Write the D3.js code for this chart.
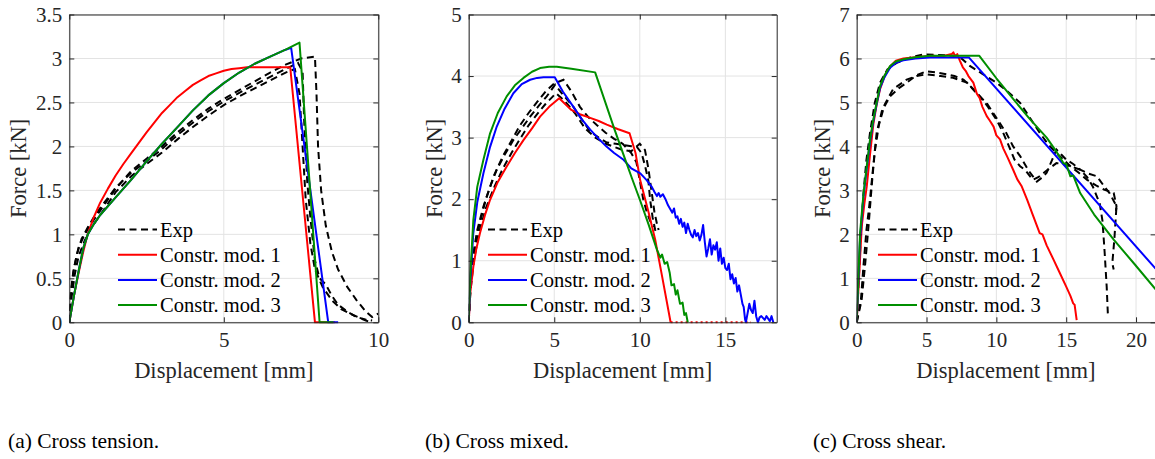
<!DOCTYPE html>
<html><head><meta charset="utf-8">
<script src="https://cdn.jsdelivr.net/npm/d3@7/dist/d3.min.js"></script>
<style>
html,body{margin:0;padding:0;background:#fff;}
svg{display:block;}
</style></head>
<body>
<svg id="chart" width="1155" height="459"></svg>
<script>
// ---------------- DATA ----------------
const seriesNames = ["Exp", "Constr. mod. 1", "Constr. mod. 2", "Constr. mod. 3"];
const seriesColors = ["#000000", "#ff0000", "#0000ff", "#008f00"];
const captions = ["(a) Cross tension.", "(b) Cross mixed.", "(c) Cross shear."];
const xTitle = "Displacement [mm]";
const yTitle = "Force [kN]";

// (a) Cross tension
const tensionXTicks = [0, 5, 10];
const tensionYTicks = [0, 0.5, 1, 1.5, 2, 2.5, 3, 3.5];
const tensionExp1 = [[0,0],[0.05,0.3],[0.12,0.55],[0.25,0.78],[0.4,0.95],[0.6,1.08],[0.8,1.2],[1.0,1.3],[1.5,1.53],[2.0,1.7],[2.5,1.83],[3.0,1.97],[3.5,2.13],[4.0,2.27],[4.5,2.4],[5.0,2.51],[5.5,2.61],[6.0,2.7],[6.5,2.79],[7.0,2.88],[7.4,2.95],[7.55,2.85],[7.6,2.3],[7.7,1.6],[7.8,1.2],[7.95,0.7],[8.1,0.5],[8.3,0.43],[8.5,0.3],[8.7,0.2],[9.0,0.12],[9.3,0.06],[9.6,0.03],[9.8,0.02]];
const tensionExp2 = [[0,0],[0.08,0.3],[0.18,0.55],[0.3,0.75],[0.5,0.93],[0.7,1.07],[1.0,1.22],[1.5,1.48],[2.0,1.66],[2.5,1.8],[3.0,1.93],[3.5,2.08],[4.0,2.22],[4.5,2.35],[5.0,2.47],[5.5,2.57],[6.0,2.66],[6.5,2.75],[7.0,2.84],[7.3,2.88],[7.45,2.6],[7.55,2.0],[7.65,1.4],[7.8,0.9],[7.95,0.6],[8.2,0.4],[8.5,0.25],[8.8,0.15],[9.2,0.08],[9.6,0.02],[9.75,0.0]];
const tensionExp3 = [[0,0],[0.05,0.35],[0.15,0.62],[0.3,0.85],[0.5,1.0],[0.8,1.17],[1.0,1.27],[1.5,1.52],[2.0,1.72],[2.5,1.86],[3.0,2.0],[3.5,2.16],[4.0,2.3],[4.5,2.43],[5.0,2.54],[5.5,2.64],[6.0,2.74],[6.5,2.84],[7.0,2.93],[7.5,3.0],[7.95,3.02],[8.0,2.6],[8.05,2.0],[8.15,1.5],[8.3,1.1],[8.5,0.8],[8.7,0.6],[9.0,0.4],[9.3,0.25],[9.6,0.12],[9.8,0.06],[10.0,0.1]];
const tensionMod1 = [[0,0],[0.15,0.3],[0.3,0.56],[0.45,0.8],[0.6,1.01],[0.8,1.2],[1.0,1.36],[1.25,1.52],[1.5,1.67],[1.75,1.8],[2.0,1.92],[2.25,2.04],[2.5,2.16],[2.75,2.27],[3.0,2.38],[3.25,2.47],[3.5,2.56],[3.75,2.63],[4.0,2.7],[4.25,2.75],[4.5,2.8],[4.75,2.83],[5.0,2.86],[5.25,2.88],[5.5,2.89],[5.75,2.9],[6.0,2.9],[7.15,2.9],[7.95,0],[8.6,0]];
const tensionMod2 = [[0,0],[0.15,0.3],[0.3,0.58],[0.45,0.84],[0.6,1.0],[0.8,1.12],[1.0,1.22],[1.5,1.42],[2.0,1.62],[2.5,1.83],[3.0,2.03],[3.5,2.22],[4.0,2.41],[4.5,2.58],[5.0,2.72],[5.5,2.84],[6.0,2.94],[6.5,3.02],[7.0,3.1],[7.18,3.12],[8.38,0],[8.7,0]];
const tensionMod3 = [[0,0],[0.15,0.3],[0.3,0.58],[0.45,0.84],[0.6,1.0],[0.8,1.12],[1.0,1.22],[1.5,1.42],[2.0,1.62],[2.5,1.83],[3.0,2.03],[3.5,2.22],[4.0,2.41],[4.5,2.58],[5.0,2.72],[5.5,2.84],[6.0,2.94],[6.5,3.02],[7.0,3.1],[7.45,3.18],[8.1,0],[8.55,0]];

// (b) Cross mixed
const mixedXTicks = [0, 5, 10, 15];
const mixedYTicks = [0, 1, 2, 3, 4, 5];
const mixedExp1 = [[0,0],[0.1,0.6],[0.27,1.12],[0.5,1.5],[0.86,1.88],[1.25,2.2],[1.64,2.48],[2.1,2.72],[2.61,2.96],[3.1,3.15],[3.59,3.34],[4.1,3.52],[4.56,3.67],[5.05,3.86],[5.5,3.7],[6.12,3.5],[6.6,3.3],[7.1,3.1],[7.6,3.0],[8.07,2.92],[8.6,2.9],[9.05,2.88],[9.5,2.86],[9.83,2.85],[10.1,2.75],[10.3,2.55],[10.5,2.3],[10.6,2.0],[10.75,1.7],[10.9,1.5],[11.0,1.42]];
const mixedExp2 = [[0,0],[0.1,0.55],[0.3,1.1],[0.6,1.55],[1.0,2.0],[1.5,2.4],[2.0,2.7],[2.5,2.95],[3.0,3.2],[3.5,3.4],[4.0,3.58],[4.5,3.75],[5.0,3.88],[5.54,3.94],[6.0,3.75],[6.5,3.5],[7.0,3.33],[7.5,3.2],[8.0,3.08],[8.5,2.98],[9.0,2.9],[9.5,2.75],[9.8,2.6],[10.0,2.3],[10.2,2.0],[10.4,1.8],[10.6,1.65],[10.8,1.55]];
const mixedExp3 = [[0,0],[0.1,0.5],[0.3,1.0],[0.6,1.45],[1.0,1.85],[1.5,2.2],[2.0,2.5],[2.5,2.75],[3.0,2.98],[3.5,3.2],[4.0,3.38],[4.5,3.55],[5.1,3.72],[5.6,3.6],[6.2,3.4],[6.8,3.15],[7.4,3.0],[8.0,2.9],[8.5,2.85],[9.0,2.8],[9.5,2.78],[10.0,2.9],[10.3,2.8],[10.5,2.5],[10.7,2.1],[10.85,1.8],[11.0,1.6],[11.1,1.5]];
const mixedMod1 = [[0,0],[0.1,0.5],[0.27,0.9],[0.45,1.2],[0.66,1.45],[0.95,1.74],[1.25,1.99],[1.7,2.28],[2.22,2.53],[2.7,2.75],[3.2,2.96],[3.7,3.15],[4.17,3.34],[4.7,3.5],[5.29,3.64],[6.0,3.45],[6.5,3.38],[7.1,3.32],[7.6,3.27],[8.07,3.21],[8.7,3.14],[9.4,3.07],[9.75,2.75],[10.02,2.31],[10.5,1.8],[10.9,1.34],[11.3,0.75],[11.8,0]];
const mixedMod1Tail = [[11.8,0],[16.5,0]];
const mixedMod2 = [[0,0],[0.1,0.7],[0.27,1.45],[0.5,1.95],[0.86,2.42],[1.25,2.85],[1.64,3.18],[2.1,3.47],[2.61,3.72],[3.1,3.87],[3.59,3.94],[4.0,3.97],[4.37,3.98],[5.03,3.98],[5.5,3.75],[6.12,3.5],[6.6,3.3],[7.1,3.13],[7.6,2.98],[8.07,2.85],[8.5,2.75],[9.05,2.64],[9.5,2.5],[10.03,2.42],[10.4,2.31],[10.7,2.2],[10.85,2.12],[11.0,2.05],[11.1,2.1],[11.2,2.04],[11.35,2.08],[11.5,2.0],[11.65,1.9],[11.8,1.83],[11.9,1.78],[12.0,1.85],[12.1,1.7],[12.2,1.72],[12.3,1.6],[12.4,1.68],[12.5,1.55],[12.6,1.62],[12.7,1.45],[12.8,1.6],[12.9,1.5],[13.0,1.42],[13.1,1.38],[13.2,1.5],[13.3,1.4],[13.4,1.45],[13.5,1.33],[13.6,1.42],[13.7,1.58],[13.8,1.3],[13.9,1.07],[14.0,1.2],[14.1,1.35],[14.2,1.1],[14.3,1.25],[14.4,1.18],[14.5,1.3],[14.6,1.0],[14.7,1.2],[14.8,0.95],[14.9,1.05],[15.0,0.88],[15.1,0.85],[15.2,0.95],[15.3,0.7],[15.4,0.78],[15.5,0.63],[15.6,0.72],[15.7,0.5],[15.8,0.6],[15.9,0.45],[16.0,0.3],[16.07,0.25],[16.15,0.05],[16.2,0],[16.3,0.15],[16.4,0.3],[16.5,0.2],[16.6,0.15],[16.7,0.35],[16.8,0.1],[16.9,0.0],[17.0,0.08],[17.1,0.1],[17.3,0.04],[17.4,0.1],[17.6,0.02],[17.7,0.1],[17.8,0]];
const mixedMod3 = [[0,0],[0.1,0.8],[0.27,1.66],[0.5,2.2],[0.86,2.64],[1.25,3.07],[1.7,3.4],[2.22,3.67],[2.7,3.85],[3.2,3.97],[3.7,4.07],[4.17,4.13],[4.7,4.15],[5.15,4.15],[6.0,4.12],[7.39,4.06],[8.0,3.56],[8.5,3.15],[9.05,2.72],[9.54,2.34],[10.03,1.97],[10.5,1.6],[11.0,1.18],[11.2,1.05],[11.3,1.1],[11.45,0.95],[11.6,0.98],[11.75,0.8],[11.85,0.6],[12.0,0.62],[12.1,0.45],[12.2,0.52],[12.35,0.3],[12.5,0.32],[12.6,0.12],[12.7,0.15],[12.8,0.0]];

// (c) Cross shear
const shearXTicks = [0, 5, 10, 15, 20];
const shearYTicks = [0, 1, 2, 3, 4, 5, 6, 7];
const shearExp1 = [[0,0],[0.15,1.0],[0.3,2.0],[0.5,3.0],[0.7,3.7],[0.95,4.3],[1.3,5.0],[1.67,5.45],[2.2,5.75],[2.86,5.9],[3.8,6.02],[4.77,6.09],[5.8,6.08],[6.92,6.06],[7.5,6.0],[8.1,5.83],[9.0,5.65],[10.0,5.45],[10.8,5.25],[11.7,4.99],[12.4,4.65],[13.1,4.31],[13.7,4.05],[14.3,3.85],[14.8,3.7],[15.3,3.55],[15.9,3.4],[16.5,3.24],[17.1,3.12],[17.7,3.02],[18.4,2.94],[18.6,2.64],[18.55,2.5]];
const shearExp2 = [[0,0],[0.3,0.5],[0.48,1.27],[0.7,2.1],[0.95,2.79],[1.2,3.6],[1.43,4.31],[1.8,4.8],[2.39,5.14],[3.0,5.32],[3.58,5.45],[4.3,5.62],[5.0,5.71],[5.7,5.68],[6.44,5.64],[7.0,5.6],[7.64,5.52],[8.2,5.35],[8.83,5.14],[9.4,4.9],[10.0,4.61],[10.5,4.3],[11.0,3.93],[11.3,3.7],[11.7,3.55],[12.1,3.45],[12.6,3.24],[13.0,3.3],[13.4,3.4],[13.8,3.5],[14.3,3.62],[14.8,3.6],[15.3,3.55],[16.0,3.47],[16.5,3.3],[16.9,3.09],[17.4,2.7],[17.6,2.3],[17.75,1.6],[17.9,0.8],[17.98,0.2]];
const shearExp3 = [[0,0],[0.35,0.5],[0.6,1.3],[0.85,2.2],[1.1,3.2],[1.3,3.9],[1.6,4.5],[2.0,4.95],[2.6,5.3],[3.58,5.52],[4.3,5.6],[5.0,5.64],[6.0,5.6],[6.9,5.56],[7.9,5.45],[8.6,5.2],[9.3,4.99],[10.0,4.65],[10.7,4.31],[11.2,4.0],[11.7,3.78],[12.3,3.45],[12.9,3.2],[13.3,3.3],[13.6,3.4],[14.0,3.7],[14.3,3.93],[14.7,3.8],[15.0,3.7],[15.5,3.6],[16.0,3.47],[16.6,3.38],[17.2,3.32],[17.7,3.1],[18.1,2.94],[18.6,2.64],[18.45,1.9],[18.3,1.34],[18.4,1.2]];
const shearMod1 = [[0,0],[0.2,1.2],[0.36,2.18],[0.55,2.7],[0.72,3.09],[0.95,3.8],[1.19,4.5],[1.43,4.95],[1.67,5.3],[2.0,5.6],[2.39,5.82],[2.8,5.95],[3.34,6.0],[4.2,6.03],[5.0,6.05],[5.5,6.06],[6.0,6.04],[6.5,6.08],[6.8,6.1],[6.92,6.14],[7.05,6.05],[7.2,6.1],[7.4,5.94],[7.6,5.8],[7.8,5.72],[8.0,5.6],[8.35,5.45],[8.6,5.2],[8.8,5.1],[9.0,4.9],[9.31,4.69],[9.5,4.6],[9.8,4.45],[10.0,4.25],[10.26,4.16],[10.5,3.95],[10.8,3.75],[11.2,3.47],[11.5,3.25],[11.8,3.1],[12.2,2.79],[12.6,2.45],[13.1,2.03],[13.3,2.0],[13.6,1.75],[14.1,1.42],[14.5,1.15],[15.0,0.81],[15.3,0.6],[15.5,0.43],[15.6,0.4],[15.75,0.05]];
const shearMod2 = [[0,0],[0.24,1.9],[0.48,2.85],[0.72,3.5],[0.95,4.1],[1.19,4.57],[1.43,4.97],[1.67,5.33],[2.0,5.58],[2.39,5.79],[2.8,5.9],[3.34,5.96],[4.2,6.0],[5.25,6.02],[8.04,6.02],[21.4,1.22]];
const shearMod3 = [[0,0],[0.24,2.03],[0.48,2.9],[0.72,3.55],[0.95,4.15],[1.19,4.61],[1.43,5.0],[1.67,5.37],[2.0,5.62],[2.39,5.83],[2.8,5.93],[3.34,5.98],[4.2,6.03],[5.25,6.06],[7.0,6.06],[8.78,6.06],[10.0,5.55],[11.2,5.08],[12.4,4.62],[13.6,4.2],[14.3,3.88],[14.8,3.62],[15.0,3.6],[15.3,3.32],[15.5,3.34],[16.0,2.94],[17.0,2.45],[18.4,1.88],[19.9,1.32],[21.4,0.75]];

// ---------------- DRAW ----------------
const FONT = "Liberation Serif";
const svg = d3.select("#chart");
const AX = "#262626", GRID = "#e3e3e3";

const panels = [
  {id:"a", x0:69.3, x1:378.3, xDom:[0,10], yDom:[0,3.5], xt:tensionXTicks, yt:tensionYTicks,
   exp:[tensionExp1,tensionExp2,tensionExp3], mods:[tensionMod1,tensionMod2,tensionMod3], extra:null,
   yLabelX:26, legX:118, capX:8},
  {id:"b", x0:468.7, x1:776.7, xDom:[0,18], yDom:[0,5], xt:mixedXTicks, yt:mixedYTicks,
   exp:[mixedExp1,mixedExp2,mixedExp3], mods:[mixedMod1,mixedMod2,mixedMod3], extra:mixedMod1Tail,
   yLabelX:442, legX:488, capX:425},
  {id:"c", x0:856.7, x1:1155.6, xDom:[0,21.4], yDom:[0,7], xt:shearXTicks, yt:shearYTicks,
   exp:[shearExp1,shearExp2,shearExp3], mods:[shearMod1,shearMod2,shearMod3], extra:null,
   yLabelX:830, legX:878, capX:813}
];
const yTop = 14.5, yBot = 322.3;
const fmt = d3.format("~g");
const setFont = (sel, size) => sel.attr("font-family", FONT).attr("font-size", size);

panels.forEach((p, pi) => {
  const x = d3.scaleLinear().domain(p.xDom).range([p.x0, p.x1]);
  const y = d3.scaleLinear().domain(p.yDom).range([yBot, yTop]);
  const g = svg.append("g");

  // grid
  g.append("g").selectAll("line").data(p.xt).join("line")
    .attr("x1", d => x(d)).attr("x2", d => x(d)).attr("y1", yTop).attr("y2", yBot)
    .attr("stroke", GRID).attr("stroke-width", 1);
  g.append("g").selectAll("line").data(p.yt).join("line")
    .attr("y1", d => y(d)).attr("y2", d => y(d)).attr("x1", p.x0).attr("x2", p.x1)
    .attr("stroke", GRID).attr("stroke-width", 1);

  // clip
  const cid = "clip-" + p.id;
  svg.append("clipPath").attr("id", cid).append("rect")
    .attr("x", p.x0).attr("y", yTop).attr("width", p.x1 - p.x0).attr("height", yBot - yTop + 1.5);

  const line = d3.line().x(d => x(d[0])).y(d => y(d[1]));
  const plot = g.append("g").attr("clip-path", `url(#${cid})`);

  p.exp.forEach(s => {
    plot.append("path").attr("d", line(s)).attr("fill", "none")
      .attr("stroke", "#000").attr("stroke-width", 2).attr("stroke-dasharray", "7,4.5");
  });
  if (p.extra) {
    plot.append("path").attr("d", line(p.extra)).attr("fill", "none")
      .attr("stroke", seriesColors[1]).attr("stroke-width", 2).attr("stroke-dasharray", "2,3");
  }
  p.mods.forEach((s, k) => {
    plot.append("path").attr("d", line(s)).attr("fill", "none")
      .attr("stroke", seriesColors[k + 1]).attr("stroke-width", 2).attr("stroke-linejoin", "round");
  });

  // axes with inside ticks
  const axB = d3.axisBottom(x).tickValues(p.xt).tickFormat(fmt).tickSizeInner(-5).tickSizeOuter(0).tickPadding(10);
  const axL = d3.axisLeft(y).tickValues(p.yt).tickFormat(fmt).tickSizeInner(-5).tickSizeOuter(0).tickPadding(7);
  const axT = d3.axisTop(x).tickValues(p.xt).tickFormat("").tickSizeInner(-5).tickSizeOuter(0);
  const axR = d3.axisRight(y).tickValues(p.yt).tickFormat("").tickSizeInner(-5).tickSizeOuter(0);
  const styleAx = sel => {
    setFont(sel, 21);
    sel.selectAll("path.domain").attr("stroke", AX).attr("stroke-width", 1);
    sel.selectAll(".tick line").attr("stroke", AX).attr("stroke-width", 1);
    setFont(sel.selectAll(".tick text").attr("fill", AX), 21);
  };
  g.append("g").attr("transform", `translate(0,${yBot})`).call(axB).call(styleAx)
    .selectAll(".tick text").attr("dy", "0.71em");
  g.append("g").attr("transform", `translate(${p.x0},0)`).call(axL).call(styleAx);
  g.append("g").attr("transform", `translate(0,${yTop})`).call(axT).call(styleAx);
  g.append("g").attr("transform", `translate(${p.x1},0)`).call(axR).call(styleAx);

  // axis titles
  g.append("text").attr("x", (p.x0 + Math.min(p.x1, 1155)) / 2).attr("y", 378)
    .attr("text-anchor", "middle").attr("fill", AX).call(setFont, 22.5).text(xTitle);
  g.append("text").attr("transform", `translate(${p.yLabelX},${(yTop + yBot) / 2}) rotate(-90)`)
    .attr("text-anchor", "middle").attr("fill", AX).call(setFont, 22.5).text(yTitle);

  // legend
  const leg = g.append("g");
  seriesNames.forEach((name, k) => {
    const ly = 229.5 + k * 25.2;
    leg.append("line").attr("x1", p.legX).attr("x2", p.legX + 39).attr("y1", ly).attr("y2", ly)
      .attr("stroke", seriesColors[k]).attr("stroke-width", 2)
      .attr("stroke-dasharray", k === 0 ? "7,4.5" : null);
    leg.append("text").attr("x", p.legX + 42).attr("y", ly + 7)
      .attr("fill", "#000").call(setFont, 20.5).text(name);
  });

  // caption
  svg.append("text").attr("x", p.capX).attr("y", 448).attr("fill", "#000").call(setFont, 21.5).text(captions[pi]);
});
</script>
</body></html>
